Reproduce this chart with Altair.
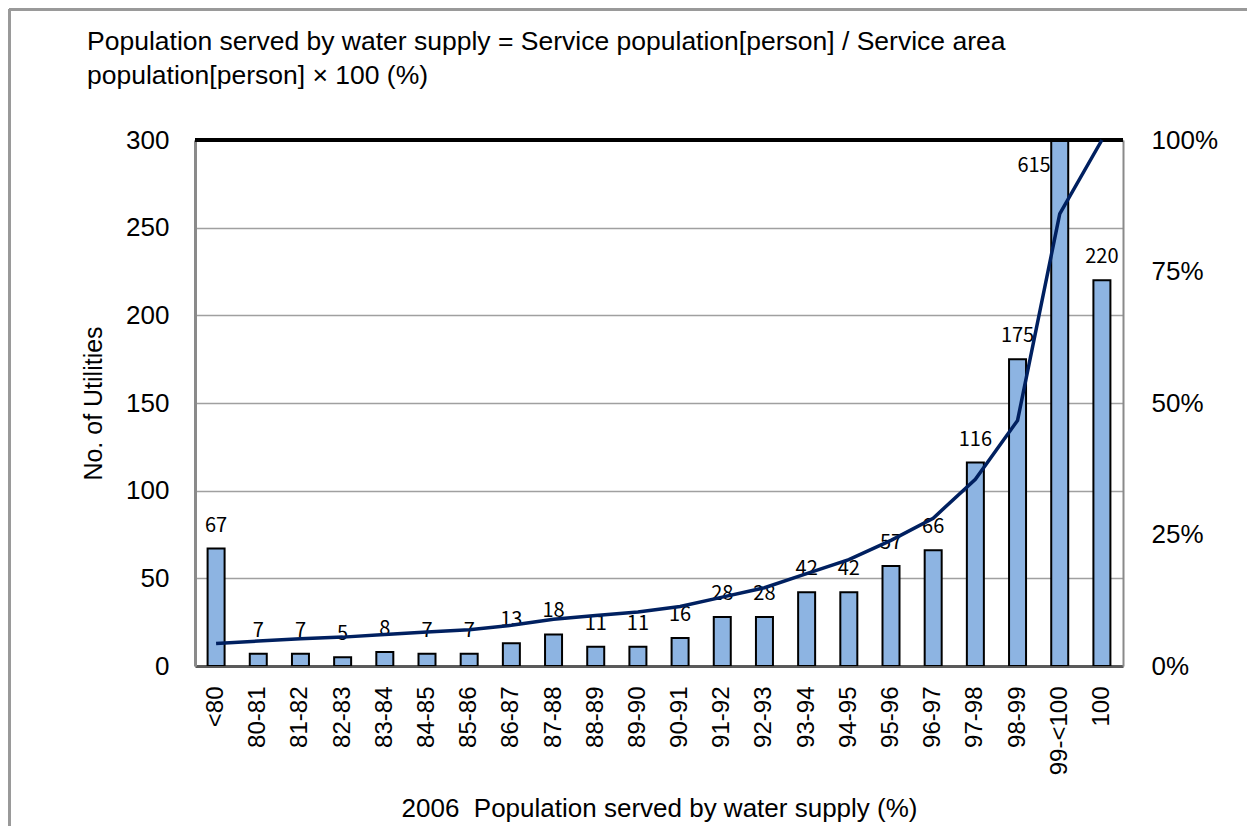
import altair as alt
import pandas as pd

categories = ["<80", "80-81", "81-82", "82-83", "83-84", "84-85", "85-86", "86-87",
              "87-88", "88-89", "89-90", "90-91", "91-92", "92-93", "93-94", "94-95",
              "95-96", "96-97", "97-98", "98-99", "99-<100", "100"]
counts = [67, 7, 7, 5, 8, 7, 7, 13, 18, 11, 11, 16, 28, 28, 42, 42, 57, 66, 116, 175, 615, 220]
cum_pct = [4.28, 4.73, 5.17, 5.49, 6.00, 6.45, 6.90, 7.73, 8.88, 9.58, 10.28, 11.30,
           13.09, 14.88, 17.56, 20.24, 23.88, 28.10, 35.50, 46.68, 85.95, 100.0]

df = pd.DataFrame({"cat": categories, "count": counts, "cum": cum_pct})

FONT = "Liberation Sans"
YMAX = 300

x_enc = alt.X("cat:N", sort=categories, title="2006\u00a0 Population served by water supply (%)",
              scale=alt.Scale(paddingInner=0, paddingOuter=0),
              axis=alt.Axis(labelAngle=-90, labelPadding=20, ticks=False,
                            labelFontSize=24, labelFont=FONT, labelColor="black",
                            titleFontSize=26, titleFont=FONT, titleFontWeight="normal",
                            titleColor="black", titlePadding=21,
                            domainColor="#5a5a5a", domainWidth=3))

y_title = "No. of Utilities"
y_scale = alt.Scale(domain=[0, YMAX], nice=False)
y_axis = alt.Axis(values=[0, 50, 100, 150, 200, 250, 300], ticks=False, labelPadding=26,
                  labelFontSize=26, labelFont=FONT, labelColor="black",
                  titleFontSize=25, titleFont=FONT, titleFontWeight="normal",
                  titleColor="black", titlePadding=19,
                  grid=True, gridColor="#a0a0a0", gridWidth=1.5,
                  domainColor="#8a8a8a", domainWidth=3)

base = alt.Chart(df).encode(x=x_enc)

bars = base.mark_bar(fill="#8DB4E2", stroke="black", strokeWidth=2, width=17, clip=True).encode(
    y=alt.Y("count:Q", scale=y_scale, axis=y_axis, title=y_title)
)

labels = base.transform_filter(alt.datum.count <= YMAX).mark_text(
    baseline="bottom", dy=-13, font="Noto Sans CJK JP", fontSize=20, color="black"
).encode(y=alt.Y("count:Q", title=y_title), text="count:Q")

label_clip = base.transform_filter(alt.datum.count > YMAX).transform_calculate(
    ylab="300"
).mark_text(
    align="right", baseline="middle", dx=-9, dy=26, font="Noto Sans CJK JP",
    fontSize=20, color="black"
).encode(y=alt.Y("ylab:Q", title=y_title), text="count:Q")

top_rule = alt.Chart(df).mark_rule(color="black", strokeWidth=3).encode(
    y=alt.datum(YMAX)
)

# outer frame (only the left and top edges are visible in the reference)
frame_left = alt.Chart(df).mark_rule(color="#999999", strokeWidth=3).encode(
    x=alt.value(-186), y=alt.value(-131), y2=alt.value(686)
)
frame_top = alt.Chart(df).mark_rule(color="#999999", strokeWidth=3).encode(
    x=alt.value(-186), x2=alt.value(1052), y=alt.value(-131)
)

left = alt.layer(frame_left, frame_top, bars, labels, label_clip, top_rule)

line = base.mark_line(color="#002060", strokeWidth=3.5).encode(
    y=alt.Y("cum:Q", scale=alt.Scale(domain=[0, 100], nice=False), title=None,
            axis=alt.Axis(orient="right", values=[0, 25, 50, 75, 100],
                          labelExpr="datum.value + '%'", grid=False, ticks=False,
                          labelPadding=28, labelFontSize=26, labelFont=FONT,
                          labelColor="black", domainColor="#8a8a8a", domainWidth=2))
)

chart = alt.layer(left, line).resolve_scale(y="independent").properties(
    width=928, height=526,
    title=alt.TitleParams(
        text=["Population served by water supply = Service population[person] / Service area",
              "population[person] \u00d7 100 (%)"],
        anchor="start", frame="group", dx=-108, offset=0, dy=82, fontSize=26.5, font=FONT,
        fontWeight="normal", color="black", lineHeight=34),
    autosize=alt.AutoSizeParams(type="none"),
    padding={"left": 187, "top": 132, "right": 124, "bottom": 160},
).configure_view(stroke=None)

chart.save("out.html", embed_options={"renderer": "svg", "actions": False})
